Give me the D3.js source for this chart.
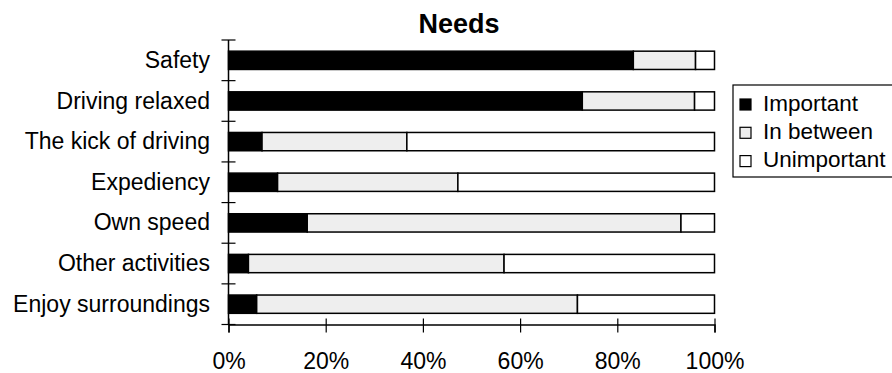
<!DOCTYPE html>
<html>
<head>
<meta charset="utf-8">
<script src="https://cdn.jsdelivr.net/npm/d3@7"></script>
<style>
  body { margin: 0; background: #fff; }
  svg { display: block; }
  text { font-family: "Liberation Sans", Arial, sans-serif; fill: #000; }
</style>
</head>
<body>
<svg id="chart" width="892" height="373"></svg>
<script>
const categories = ["Safety", "Driving relaxed", "The kick of driving", "Expediency", "Own speed", "Other activities", "Enjoy surroundings"];
const seriesNames = ["Important", "In between", "Unimportant"];
const important = [83.3, 72.8, 6.9, 10.1, 16.2, 4.1, 5.8];
const inBetween = [12.8, 23.1, 29.8, 37.1, 76.9, 52.6, 66.0];
const unimportant = [3.9, 4.1, 63.3, 52.8, 6.9, 43.3, 28.2];
const tickValues = [0, 0.2, 0.4, 0.6, 0.8, 1.0];
const titleText = "Needs";

const colors = ["#000000", "#eeeeee", "#ffffff"];

(function () {
const svg = d3.select("#chart");
const pLeft = 228.5, pRight = 714.5, pTop = 40, pBottom = 324.5;

const rows = categories.map((c, i) => {
  const total = important[i] + inBetween[i] + unimportant[i];
  return { cat: c, "Important": important[i] / total, "In between": inBetween[i] / total, "Unimportant": unimportant[i] / total };
});
const stacked = d3.stack().keys(seriesNames)(rows);

const x = d3.scaleLinear().domain([0, 1]).range([pLeft, pRight]);
const y = d3.scaleBand().domain(categories).range([pTop, pBottom]).paddingInner(0.55).paddingOuter(0.275);
const yb = d3.scaleBand().domain(categories).range([pTop, pBottom]);

// bars
const g = svg.append("g");
stacked.forEach((s, si) => {
  g.selectAll(null).data(s).enter().append("rect")
    .attr("x", d => x(d[0]))
    .attr("y", d => y(d.data.cat))
    .attr("width", d => x(d[1]) - x(d[0]))
    .attr("height", y.bandwidth())
    .attr("fill", colors[si])
    .attr("stroke", "#000")
    .attr("stroke-width", 1.5);
});

// y axis line and ticks
svg.append("line").attr("x1", pLeft).attr("x2", pLeft).attr("y1", pTop).attr("y2", pBottom)
  .attr("stroke", "#000").attr("stroke-width", 1.5);
const yTicks = categories.map(c => yb(c)).concat([pBottom]);
svg.selectAll(null).data(yTicks).enter().append("line")
  .attr("x1", pLeft - 7).attr("x2", pLeft + 7)
  .attr("y1", d => d).attr("y2", d => d)
  .attr("stroke", "#000").attr("stroke-width", 1.2);
svg.selectAll(null).data(categories).enter().append("text")
  .attr("x", 210)
  .attr("y", d => yb(d) + yb.bandwidth() / 2)
  .attr("dy", "0.33em")
  .attr("text-anchor", "end")
  .style("font-size", "23px")
  .text(d => d);

// x axis
const xAxis = d3.axisBottom(x).tickValues(tickValues).tickFormat(d3.format(".0%")).tickSize(8).tickPadding(20);
const ax = svg.append("g").attr("transform", `translate(0,${pBottom})`).call(xAxis);
ax.select(".domain").attr("stroke", "#000").attr("stroke-width", 1.5);
ax.selectAll(".tick line").attr("stroke", "#000").attr("stroke-width", 1.2).attr("y1", -6);
ax.selectAll(".tick text").style("font-size", "23px").style("font-family", "Liberation Sans, Arial, sans-serif").attr("fill", "#000");

// title
svg.append("text").attr("x", 459).attr("y", 33).attr("text-anchor", "middle")
  .style("font-size", "27px").style("font-weight", "bold").text(titleText);

// legend
const lg = svg.append("g");
lg.append("rect").attr("x", 733).attr("y", 85).attr("width", 170).attr("height", 92)
  .attr("fill", "#fff").attr("stroke", "#000").attr("stroke-width", 1.2);
seriesNames.forEach((n, i) => {
  const by = 110.5 + i * 28.3;
  lg.append("rect").attr("x", 740).attr("y", by - 11.5).attr("width", 11).attr("height", 11)
    .attr("fill", colors[i]).attr("stroke", "#000").attr("stroke-width", 1.2);
  lg.append("text").attr("x", 763).attr("y", by).style("font-size", "22.5px").text(n);
});
})();
</script>
</body>
</html>
